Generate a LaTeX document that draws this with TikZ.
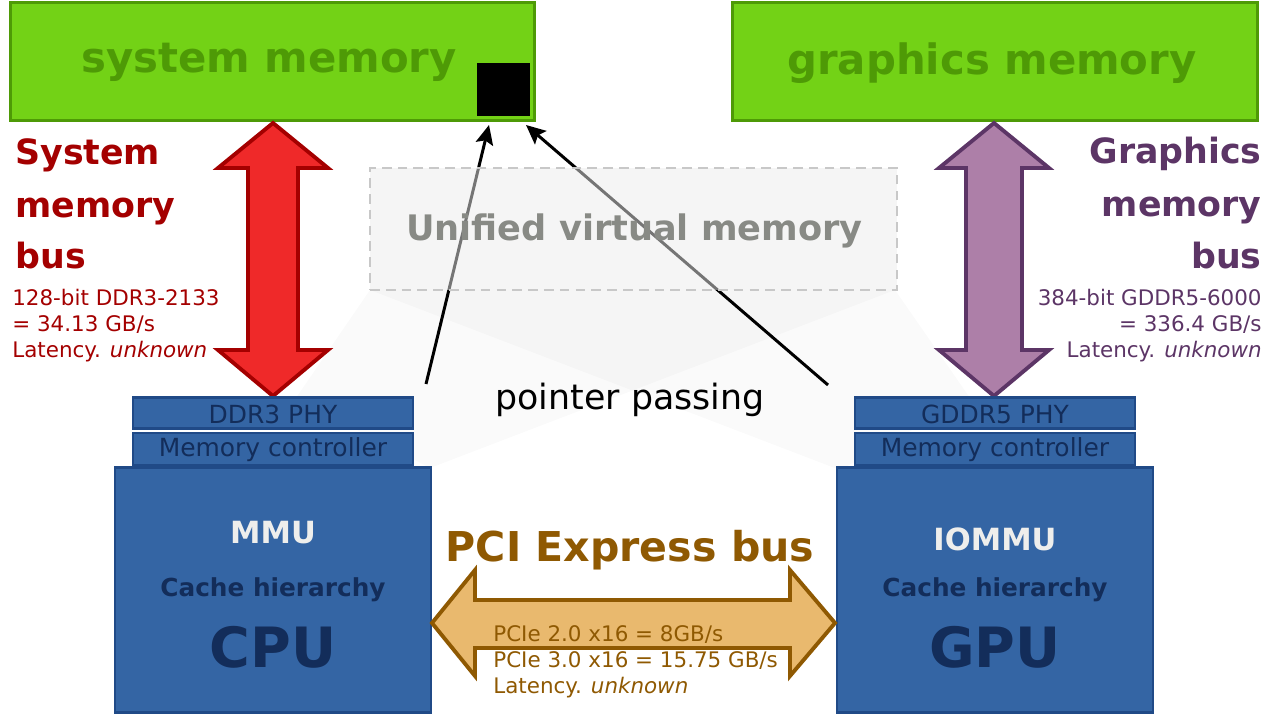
\documentclass[tikz,border=0pt]{standalone}
\usepackage{fontspec}
\setmainfont{DejaVu Sans}
\usetikzlibrary{arrows.meta}

\definecolor{chamfill}{HTML}{73D216}
\definecolor{chamline}{HTML}{4E9A06}
\definecolor{skyfill}{HTML}{3465A4}
\definecolor{skyline}{HTML}{204A87}
\definecolor{chiptext}{HTML}{132D5A}
\definecolor{mmutext}{HTML}{EEEEEC}
\definecolor{scarfill}{HTML}{EF2929}
\definecolor{scarline}{HTML}{A40000}
\definecolor{plumfill}{HTML}{AD7FA8}
\definecolor{plumline}{HTML}{5C3566}
\definecolor{orfill}{HTML}{E9B96E}
\definecolor{orline}{HTML}{8F5902}
\definecolor{uvmfill}{HTML}{EBEBEB}
\definecolor{uvmline}{HTML}{C8C8C8}
\definecolor{uvmtext}{HTML}{888A85}

\tikzset{
  membox/.style={draw=chamline, fill=chamfill, line width=1.7pt, minimum height=2.38cm, inner sep=0pt},
  memlabel/.style={anchor=base, text=chamline, font=\bfseries\fontsize{23.8}{28}\selectfont},
  bustitle/.style={font=\bfseries\fontsize{19.8}{24}\selectfont},
  busnote/.style={font=\fontsize{12.2}{15}\selectfont},
  busarrow/.style={line width=2.2pt, line join=miter},
  chipbox/.style={draw=skyline, fill=skyfill, line width=1.2pt, inner sep=0pt},
  phylabel/.style={anchor=base, text=chiptext, font=\fontsize{14.2}{17}\selectfont},
  ptrarrow/.style={line width=1.7pt, -{Stealth[length=11pt, width=10pt, inset=2pt]}},
  shadow/.style={fill=black, fill opacity=0.02}
}

\begin{document}
\begin{tikzpicture}[x=0.02cm, y=-0.02cm]
  \useasboundingbox (0,0) rectangle (1268,714);

  % projection of the unified address space onto both chips
  \fill[shadow] (370,290) -- (895,290) -- (430,468) -- (296,398) -- cycle;
  \fill[shadow] (895,290) -- (370,290) -- (840,470) -- (970,398) -- cycle;

  % memories
  \node[membox, minimum width=10.5cm] (sysmem) at (272.5,61.5) {};
  \node[memlabel] (sysmemlbl) at (269,72) {system memory};
  \node[draw=none, fill=black, minimum size=1.06cm, inner sep=0pt] (blk) at (503.5,89.5) {};
  \node[membox, minimum width=10.52cm] (gfxmem) at (995,61.5) {};
  \node[memlabel] (gfxmemlbl) at (992,74) {graphics memory};

  % pointer passing
  \coordinate (cpuptr) at (426,384);
  \coordinate (gpuptr) at (828,385);
  \coordinate (ptrtipA) at (489,125);
  \coordinate (ptrtipB) at (526,125);
  \draw[ptrarrow] (cpuptr) -- (ptrtipA);
  \draw[ptrarrow] (gpuptr) -- (ptrtipB);
  \node[anchor=base, font=\fontsize{19.8}{24}\selectfont] (ptrlbl) at (630,409) {pointer passing};

  % unified virtual memory
  \node[draw=uvmline, fill=uvmfill, fill opacity=0.5, line width=1pt, dash pattern=on 5.5pt off 3.5pt,
        minimum width=10.54cm, minimum height=2.44cm, inner sep=0pt] (uvm) at (633.5,229) {};
  \node[anchor=base, text=uvmtext, font=\bfseries\fontsize{20}{24}\selectfont] (uvmlbl) at (634.5,240) {Unified virtual memory};

  % memory buses
  \draw[busarrow, draw=scarline, fill=scarfill] (273,123) -- (328,168) -- (298,168) -- (298,350) -- (328,350)
    -- (273,396) -- (218,350) -- (248,350) -- (248,168) -- (218,168) -- cycle;
  \draw[busarrow, draw=plumline, fill=plumfill] (994,123) -- (1049,168) -- (1022,168) -- (1022,350) -- (1049,350)
    -- (994,396) -- (939,350) -- (966,350) -- (966,168) -- (939,168) -- cycle;

  \foreach \y/\t in {164/System, 217/memory, 268/bus}
    \node[bustitle, text=scarline, anchor=base west, inner sep=0pt] (sysbus\y) at (15,\y) {\t};
  \foreach \y/\t in {305/{128-bit DDR3-2133}, 331/{= 34.13 GB/s}, 357/{Latency. \textit{unknown}}}
    \node[busnote, text=scarline, anchor=base west, inner sep=0pt] (sysnote\y) at (12,\y) {\t};
  \foreach \y/\t in {163/Graphics, 216/memory, 268/bus}
    \node[bustitle, text=plumline, anchor=base east, inner sep=0pt] (gfxbus\y) at (1262,\y) {\t};
  \foreach \y/\t in {305/{384-bit GDDR5-6000}, 331/{= 336.4 GB/s}, 357/{Latency. \textit{unknown}}}
    \node[busnote, text=plumline, anchor=base east, inner sep=0pt] (gfxnote\y) at (1262,\y) {\t};

  % chips
  \foreach \n/\x/\phy/\mmu/\my/\chip in {cpu/273/DDR3 PHY/MMU/543/CPU, gpu/995/GDDR5 PHY/IOMMU/550/GPU} {
    \node[chipbox, minimum width=5.6cm, minimum height=0.62cm] (\n-phy) at (\x,413) {};
    \node[phylabel] (\n-phylbl) at (\x,423) {\phy};
    \node[chipbox, minimum width=5.6cm, minimum height=0.64cm] (\n-mc) at (\x,449) {};
    \node[phylabel] (\n-mclbl) at (\x,456) {Memory controller};
    \node[chipbox, minimum width=6.32cm, minimum height=4.9cm] (\n) at (\x,590) {};
    \node[anchor=base, text=mmutext, font=\bfseries\fontsize{17.4}{20}\selectfont] (\n-mmu) at (\x,\my) {\mmu};
    \node[anchor=base, text=chiptext, font=\bfseries\fontsize{14.1}{17}\selectfont] (\n-cache) at (\x,596) {Cache hierarchy};
    \node[anchor=base, text=chiptext, font=\bfseries\fontsize{31.6}{36}\selectfont] (\n-name) at (\x,667) {\chip};
  }

  % PCI Express bus
  \draw[busarrow, draw=orline, fill=orfill] (432,623) -- (475,570) -- (475,600) -- (790,600) -- (790,570)
    -- (835,623) -- (790,676) -- (790,648) -- (475,648) -- (475,676) -- cycle;
  \node[anchor=base, text=orline, font=\bfseries\fontsize{23.4}{28}\selectfont] (pcilbl) at (630,561) {PCI Express bus};
  \foreach \y/\t in {641/{PCIe 2.0 x16 = 8GB/s}, 667/{PCIe 3.0 x16 = 15.75 GB/s}, 693/{Latency. \textit{unknown}}}
    \node[busnote, text=orline, anchor=base west, inner sep=0pt] (pcinote\y) at (493,\y) {\t};
\end{tikzpicture}
\end{document}
